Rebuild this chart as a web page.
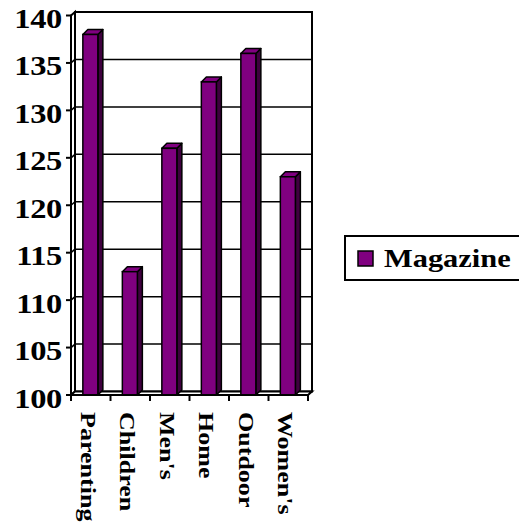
<!DOCTYPE html>
<html>
<head>
<meta charset="utf-8">
<script src="https://cdn.jsdelivr.net/npm/d3@7"></script>
<style>
  body { margin: 0; background: #fff; }
  svg { display: block; }
</style>
</head>
<body>
<div id="chart"></div>
<script>
// chart data
var categories = ['Parenting', 'Children', "Men's", 'Home', 'Outdoor', "Women's"]
var magazine = [138, 113, 126, 133, 136, 123]
var yTicks = [100, 105, 110, 115, 120, 125, 130, 135, 140]
var seriesName = 'Magazine'

var width = 519,
  height = 529
var font = "'Liberation Serif', 'Times New Roman', Times, 'DejaVu Serif', serif"

var svg = d3
  .select('#chart')
  .append('svg')
  .attr('width', width)
  .attr('height', height)
  .style('font-family', font)
  .style('font-weight', 'bold')

// front plane of the 3d box
var x = d3
  .scaleBand()
  .domain(categories)
  .range([71, 308])

var y = d3
  .scaleLinear()
  .domain([100, 140])
  .range([395, 15.5])

// depth offsets
var wall = { dx: 4, dy: -3.5 }
var bar = { dx: 5, dy: -5 }

var x0 = x.range()[0],
  x1 = x.range()[1],
  yTop = y(140),
  yBot = y(100)

// back wall
svg
  .append('rect')
  .attr('x', x0 + wall.dx)
  .attr('y', yTop + wall.dy)
  .attr('width', x1 - x0)
  .attr('height', yBot - yTop)
  .attr('fill', 'white')
  .attr('stroke', 'black')
  .attr('stroke-width', 2)

// gridlines on the back wall
var grid = yTicks.filter(function(d) {
  return d > 100 && d < 140
})
svg
  .selectAll('gridline')
  .data(grid)
  .enter()
  .append('line')
  .attr('x1', x0 + wall.dx)
  .attr('x2', x1 + wall.dx)
  .attr('y1', function(d) { return y(d) + wall.dy })
  .attr('y2', function(d) { return y(d) + wall.dy })
  .attr('stroke', 'black')
  .attr('stroke-width', 1.5)

// left wall
svg
  .append('path')
  .attr('d', 'M' + x0 + ',' + yTop + 'L' + (x0 + wall.dx) + ',' + (yTop + wall.dy) +
    'L' + (x0 + wall.dx) + ',' + (yBot + wall.dy) + 'L' + x0 + ',' + yBot + 'Z')
  .attr('fill', 'white')
  .attr('stroke', 'black')
  .attr('stroke-width', 2)

// floor
svg
  .append('path')
  .attr('d', 'M' + x0 + ',' + yBot + 'L' + (x0 + wall.dx) + ',' + (yBot + wall.dy) +
    'L' + (x1 + wall.dx) + ',' + (yBot + wall.dy) + 'L' + x1 + ',' + yBot + 'Z')
  .attr('fill', 'white')
  .attr('stroke', 'black')
  .attr('stroke-width', 2)

// grid segments across the side wall
svg
  .selectAll('sidegrid')
  .data(grid)
  .enter()
  .append('line')
  .attr('x1', x0)
  .attr('y1', function(d) { return y(d) })
  .attr('x2', x0 + wall.dx)
  .attr('y2', function(d) { return y(d) + wall.dy })
  .attr('stroke', 'black')
  .attr('stroke-width', 1.5)

// bars
var bw = x.bandwidth() * 0.38,
  boff = x.bandwidth() * 0.3

var bars = svg
  .selectAll('bar')
  .data(categories.map(function(c, i) {
    return { name: c, value: magazine[i] }
  }))
  .enter()
  .append('g')

// side face
bars
  .append('path')
  .attr('d', function(d) {
    var l = x(d.name) + boff + bw, t = y(d.value), b = y(100)
    return 'M' + l + ',' + t + 'L' + (l + bar.dx) + ',' + (t + bar.dy) +
      'L' + (l + bar.dx) + ',' + (b + bar.dy) + 'L' + l + ',' + b + 'Z'
  })
  .attr('fill', '#3f003f')
  .attr('stroke', 'black')
  .attr('stroke-width', 1.5)
  .attr('stroke-linejoin', 'round')

// top face
bars
  .append('path')
  .attr('d', function(d) {
    var l = x(d.name) + boff, t = y(d.value)
    return 'M' + l + ',' + t + 'L' + (l + bar.dx) + ',' + (t + bar.dy) +
      'L' + (l + bw + bar.dx) + ',' + (t + bar.dy) + 'L' + (l + bw) + ',' + t + 'Z'
  })
  .attr('fill', '#800080')
  .attr('stroke', 'black')
  .attr('stroke-width', 1.5)
  .attr('stroke-linejoin', 'round')

// front face
bars
  .append('rect')
  .attr('x', function(d) { return x(d.name) + boff })
  .attr('y', function(d) { return y(d.value) })
  .attr('width', bw)
  .attr('height', function(d) { return y(100) - y(d.value) })
  .attr('fill', '#800080')
  .attr('stroke', 'black')
  .attr('stroke-width', 1.5)

// front axes
svg
  .append('line')
  .attr('x1', x0).attr('x2', x0)
  .attr('y1', yTop).attr('y2', yBot)
  .attr('stroke', 'black')
  .attr('stroke-width', 2)
svg
  .append('line')
  .attr('x1', x0).attr('x2', x1)
  .attr('y1', yBot).attr('y2', yBot)
  .attr('stroke', 'black')
  .attr('stroke-width', 2)

// y ticks and labels
svg
  .selectAll('ytick')
  .data(yTicks)
  .enter()
  .append('line')
  .attr('x1', x0 - 5).attr('x2', x0)
  .attr('y1', function(d) { return y(d) })
  .attr('y2', function(d) { return y(d) })
  .attr('stroke', 'black')
  .attr('stroke-width', 2)

svg
  .selectAll('ylabel')
  .data(yTicks)
  .enter()
  .append('text')
  .attr('transform', function(d) {
    return 'translate(62,' + (y(d) + 12.5) + ')scale(1.16,1)'
  })
  .attr('font-size', 28)
  .attr('letter-spacing', -0.3)
  .style('text-anchor', 'end')
  .text(function(d) { return d })

// x ticks at category boundaries
var xEdges = categories.map(function(c) { return x(c) }).concat([x1])
svg
  .selectAll('xtick')
  .data(xEdges)
  .enter()
  .append('line')
  .attr('x1', function(d) { return d })
  .attr('x2', function(d) { return d })
  .attr('y1', yBot)
  .attr('y2', yBot + 6)
  .attr('stroke', 'black')
  .attr('stroke-width', 2)

// rotated category labels
svg
  .selectAll('xlabel')
  .data(categories)
  .enter()
  .append('text')
  .attr('transform', function(d) {
    return 'translate(' + (x(d) + x.bandwidth() / 2 - 10) + ',412)rotate(90)scale(1.24,1)'
  })
  .attr('font-size', 21)
  .style('text-anchor', 'start')
  .text(function(d) { return d })

// legend
var legend = svg.append('g').attr('transform', 'translate(345,236)')
legend
  .append('rect')
  .attr('x', 0)
  .attr('y', 0)
  .attr('width', 190)
  .attr('height', 44)
  .attr('fill', 'white')
  .attr('stroke', 'black')
  .attr('stroke-width', 2)
legend
  .append('rect')
  .attr('x', 13)
  .attr('y', 15)
  .attr('width', 15)
  .attr('height', 15)
  .attr('fill', '#800080')
  .attr('stroke', 'black')
  .attr('stroke-width', 1.5)
legend
  .append('text')
  .attr('transform', 'translate(39,31)scale(1.17,1)')
  .attr('font-size', 26)
  .text(seriesName)
</script>
</body>
</html>
